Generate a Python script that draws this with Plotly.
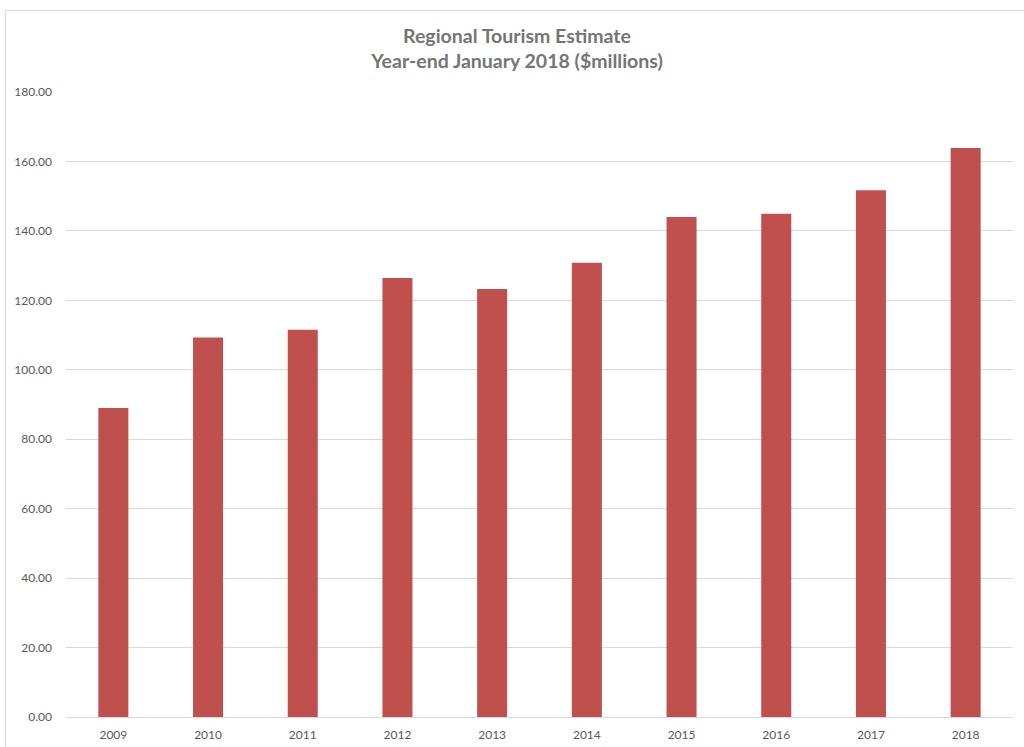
import plotly.graph_objects as go

years = ["2009", "2010", "2011", "2012", "2013", "2014", "2015", "2016", "2017", "2018"]
values = [89.0, 109.3, 111.5, 126.4, 123.3, 130.8, 144.0, 144.9, 151.7, 163.9]
y_ticks = [0, 20, 40, 60, 80, 100, 120, 140, 160, 180]

W, H = 1024, 747
ml, mr, mt, mb = 66, 11, 92, 30
pw = W - ml - mr
ph = H - mt - mb

fig = go.Figure(go.Bar(x=years, y=values, marker=dict(color="#C0504D", line=dict(width=0))))

def px_x(p):
    return (p - ml) / pw

def px_y(p):
    return (H - mb - p) / ph

fig.update_layout(
    width=W, height=H,
    margin=dict(l=ml, r=mr, t=mt, b=mb, autoexpand=False),
    paper_bgcolor="white", plot_bgcolor="white",
    bargap=0.683,
    showlegend=False,
    font=dict(family="Lato", color="#595959", size=12),
    title=dict(
        text="Regional Tourism Estimate<br>Year-end January 2018 ($millions)",
        x=517 / W, xref="container", xanchor="center",
        y=1 - 42.5 / H, yref="container", yanchor="middle",
        font=dict(family="Lato", size=19.5, color="#757575", weight="bold"),
    ),
    xaxis=dict(
        type="category", showgrid=False, showline=True, linecolor="#D9D9D9", linewidth=1,
        ticks="", tickfont=dict(size=12, color="#595959"), ticklabelstandoff=7,
        automargin=False,
    ),
    yaxis=dict(
        range=[0, 180], tickvals=y_ticks, ticktext=[f"{v:.2f}" for v in y_ticks],
        showgrid=True, gridcolor="#D9D9D9", gridwidth=1, zeroline=False, showline=False,
        ticks="", tickfont=dict(size=12, color="#595959"), ticklabelstandoff=13,
        automargin=False,
    ),
    shapes=[dict(
        type="rect", xref="paper", yref="paper",
        x0=px_x(5.5), x1=px_x(W + 10), y0=px_y(H + 10), y1=px_y(10.5),
        line=dict(color="#D9D9D9", width=1), fillcolor="rgba(0,0,0,0)", layer="below",
    )],
)

fig.write_html(
    "out.html",
    config={"displayModeBar": False},
    post_script="document.body.style.margin='0';document.body.style.overflow='hidden';",
)
